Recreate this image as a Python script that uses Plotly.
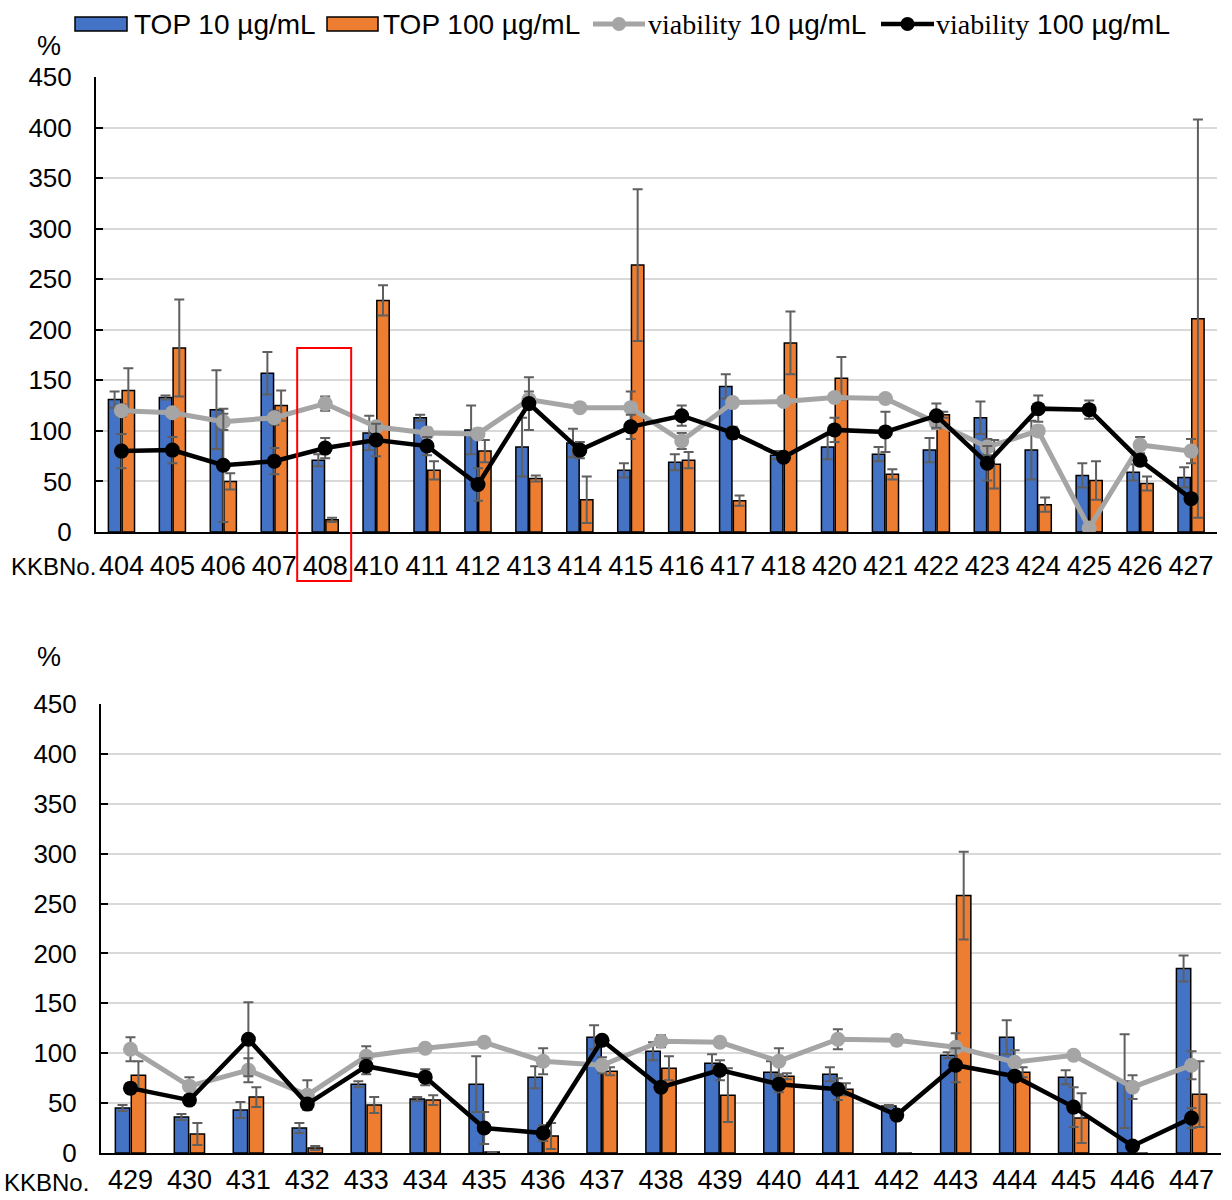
import plotly.graph_objects as go

# ---- data: upper panel ----
cats_top = ["404", "405", "406", "407", "408", "410", "411", "412", "413", "414", "415",
            "416", "417", "418", "420", "421", "422", "423", "424", "425", "426", "427"]
top10_a = [131, 133, 121, 157, 71, 98, 113, 101, 84, 88, 61, 69, 144, 76, 84, 77, 81, 113, 81, 56, 59, 54]
top10_a_err = [8, 2, 39, 21, 6, 17, 3, 24, 29, 14, 7, 8, 12, 4, 12, 7, 12, 16, 29, 12, 8, 10]
top100_a = [140, 182, 50, 125, 12, 229, 61, 80, 53, 32, 264, 71, 31, 187, 152, 57, 116, 67, 27, 51, 48, 211]
top100_a_err = [22, 48, 8, 15, 2, 15, 9, 11, 3, 23, 75, 8, 5, 31, 21, 5, 3, 24, 7, 19, 7, 197]
via10_a = [120, 118, 109, 113, 127, 104, 98, 97, 131, 123, 123, 90, 128, 129, 133, 132, 108, 84, 100, 4, 86, 80]
via10_a_err = [6, 5, 8, 7, 7, 4, 5, 5, 8, 3, 16, 8, 3, 3, 3, 4, 6, 8, 5, 2, 8, 12]
via100_a = [80, 81, 66, 70, 83, 91, 85, 47, 127, 81, 104, 115, 98, 74, 101, 99, 115, 68, 122, 121, 71, 33]
via100_a_err = [17, 13, 56, 13, 10, 16, 9, 16, 26, 8, 12, 10, 6, 3, 12, 20, 12, 17, 13, 9, 5, 5]

# ---- data: lower panel ----
cats_bot = ["429", "430", "431", "432", "433", "434", "435", "436", "437", "438",
            "439", "440", "441", "442", "443", "444", "445", "446", "447"]
top10_b = [45, 36, 43, 25, 69, 54, 69, 76, 116, 102, 90, 81, 79, 47, 98, 116, 76, 72, 185]
top10_b_err = [3, 3, 8, 5, 3, 2, 28, 11, 12, 9, 9, 11, 7, 1, 3, 17, 7, 47, 13]
top100_b = [78, 19, 56, 5, 48, 53, 1, 17, 82, 85, 58, 77, 64, 0, 258, 81, 35, 0, 59]
top100_b_err = [14, 11, 10, 2, 8, 5, 0, 13, 4, 12, 27, 3, 6, 0, 44, 5, 25, 0, 33]
via10_b = [104, 67, 83, 58, 97, 105, 111, 92, 88, 112, 111, 92, 114, 113, 106, 91, 98, 66, 88]
via10_b_err = [12, 9, 12, 15, 10, 3, 3, 13, 8, 6, 4, 13, 10, 5, 14, 12, 3, 12, 14]
via100_b = [65, 53, 114, 49, 87, 76, 25, 20, 113, 66, 83, 69, 64, 38, 88, 77, 46, 7, 35]
via100_b_err = [5, 5, 37, 3, 8, 8, 16, 8, 4, 5, 10, 8, 11, 3, 17, 5, 20, 3, 10]

highlight = "408"

BLUE = "#4472C4"
ORANGE = "#ED7D31"
GRAY = "#A5A5A5"
ERR = "#5F5F5F"
SANS = "Liberation Sans, Arial, sans-serif"
SERIF = "Liberation Serif, Times New Roman, serif"

W, H = 1232, 1200


def px_x(p):
    return p / W


def px_y(p):
    return 1 - p / H


def err(arr):
    return dict(type="data", array=arr, color=ERR, thickness=2, width=5)


fig = go.Figure()


def add_panel(cats, t10, t10e, t100, t100e, v10, v10e, v100, v100e, xa, ya):
    fig.add_trace(go.Bar(x=cats, y=t10, error_y=err(t10e), marker=dict(color=BLUE, line=dict(color="black", width=1.5)),
                         xaxis=xa, yaxis=ya, showlegend=False, offsetgroup="a"))
    fig.add_trace(go.Bar(x=cats, y=t100, error_y=err(t100e), marker=dict(color=ORANGE, line=dict(color="black", width=1.5)),
                         xaxis=xa, yaxis=ya, showlegend=False, offsetgroup="b"))
    fig.add_trace(go.Scatter(x=cats, y=v10, mode="lines+markers", error_y=err(v10e),
                             line=dict(color=GRAY, width=5), marker=dict(color=GRAY, size=15),
                             xaxis=xa, yaxis=ya, showlegend=False))
    fig.add_trace(go.Scatter(x=cats, y=v100, mode="lines+markers", error_y=err(v100e),
                             line=dict(color="black", width=4.5), marker=dict(color="black", size=15),
                             xaxis=xa, yaxis=ya, showlegend=False))


add_panel(cats_top, top10_a, top10_a_err, top100_a, top100_a_err, via10_a, via10_a_err, via100_a, via100_a_err, "x", "y")
add_panel(cats_bot, top10_b, top10_b_err, top100_b, top100_b_err, via10_b, via10_b_err, via100_b, via100_b_err, "x2", "y2")

xcommon = dict(type="category", showline=True, linecolor="black", linewidth=2, ticks="", showgrid=False,
               automargin=False, tickfont=dict(family=SANS, size=27, color="black"))
ycommon = dict(range=[0, 450], dtick=50, showgrid=True, gridcolor="#D9D9D9", gridwidth=2, zeroline=False,
               showline=True, linecolor="black", linewidth=2, ticks="inside", ticklen=7, tickwidth=2,
               automargin=False, tickcolor="black", tickfont=dict(family=SANS, size=26, color="black"),
               ticklabelstandoff=17)

fig.update_layout(
    width=W, height=H, margin=dict(l=0, r=0, t=0, b=0, pad=0, autoexpand=False),
    paper_bgcolor="white", plot_bgcolor="white",
    barmode="group", bargap=0.46, bargroupgap=0.1,
    xaxis=dict(domain=[px_x(96), px_x(1216.5)], anchor="y", range=[-0.5, len(cats_top) - 0.5],
               ticklabelstandoff=9, **xcommon),
    yaxis=dict(domain=[px_y(532), px_y(77)], anchor="x", **ycommon),
    xaxis2=dict(domain=[px_x(101), px_x(1221)], anchor="y2", range=[-0.5, len(cats_bot) - 0.5],
                ticklabelstandoff=2, **xcommon),
    yaxis2=dict(domain=[px_y(1153), px_y(704)], anchor="x2", **ycommon),
)

annotations = []
shapes = []

# axis captions
for ypix in (46, 657):
    annotations.append(dict(text="%", x=px_x(49), y=px_y(ypix), xref="paper", yref="paper",
                            showarrow=False, xanchor="center", yanchor="middle",
                            font=dict(family=SANS, size=27, color="black")))
annotations.append(dict(text="KKBNo.", x=px_x(98), y=px_y(566), xref="paper", yref="paper",
                        showarrow=False, xanchor="right", yanchor="middle",
                        font=dict(family=SANS, size=24, color="black")))
annotations.append(dict(text="KKBNo.", x=px_x(91), y=px_y(1182), xref="paper", yref="paper",
                        showarrow=False, xanchor="right", yanchor="middle",
                        font=dict(family=SANS, size=24, color="black")))

# legend row
LEG_Y = 24
for x0, x1, col in ((75, 127, BLUE), (327, 378, ORANGE)):
    shapes.append(dict(type="rect", xref="paper", yref="paper", x0=px_x(x0), x1=px_x(x1),
                       y0=px_y(LEG_Y - 7), y1=px_y(LEG_Y + 7), fillcolor=col,
                       line=dict(color="black", width=1.5)))
for x0, x1, col, w in ((593, 645, GRAY, 5), (881, 934, "black", 4.5)):
    shapes.append(dict(type="line", xref="paper", yref="paper", x0=px_x(x0), x1=px_x(x1),
                       y0=px_y(LEG_Y), y1=px_y(LEG_Y), line=dict(color=col, width=w)))
    cx = (x0 + x1) / 2
    shapes.append(dict(type="circle", xref="paper", yref="paper", x0=px_x(cx - 7), x1=px_x(cx + 7),
                       y0=px_y(LEG_Y + 7), y1=px_y(LEG_Y - 7), fillcolor=col, line=dict(color=col, width=0)))

leg_texts = [
    (132, "TOP 10 µg/mL"),
    (381, "TOP 100 µg/mL"),
    (646, f"<span style=\"font-family:{SERIF}\">viability</span> 10 µg/mL"),
    (934, f"<span style=\"font-family:{SERIF}\">viability</span> 100 µg/mL"),
]
for xl, txt in leg_texts:
    annotations.append(dict(text=txt, x=px_x(xl), y=px_y(LEG_Y), xref="paper", yref="paper",
                            showarrow=False, xanchor="left", yanchor="middle",
                            font=dict(family=SANS, size=28, color="black")))

# red frame around the highlighted compound
idx = cats_top.index(highlight)
n = len(cats_top)
shapes.append(dict(type="rect", xref="x domain", yref="paper",
                   x0=(idx + 0.5 - 0.55) / n, x1=(idx + 0.5 + 0.51) / n,
                   y0=px_y(581), y1=px_y(348), line=dict(color="red", width=2), fillcolor="rgba(0,0,0,0)"))

fig.update_layout(annotations=annotations, shapes=shapes)

fig.write_html("out.html")
